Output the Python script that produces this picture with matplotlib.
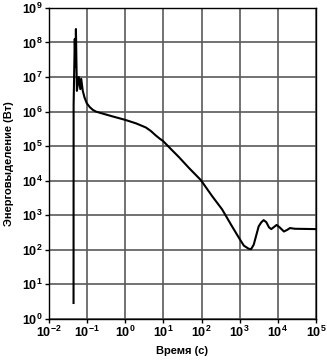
"""Energy release over time, log-log."""

import math

import matplotlib

matplotlib.use("Agg")
from matplotlib import pyplot as plt
from matplotlib.ticker import FixedLocator, FuncFormatter, NullLocator

plt.rcParams["font.family"] = ["Liberation Sans", "DejaVu Sans"]
plt.rcParams["mathtext.fontset"] = "custom"
plt.rcParams["mathtext.rm"] = "Liberation Sans:bold"
plt.rcParams["mathtext.bf"] = "Liberation Sans:bold"
plt.rcParams["mathtext.it"] = "Liberation Sans:bold"

# time, s
time_s = [
    0.0439, 0.0441, 0.0473, 0.0490, 0.0507, 0.0537, 0.0603, 0.0661, 0.0697,
    0.0767, 0.0851, 0.0977, 0.117, 0.141, 0.170, 0.209, 0.468, 1.0, 1.91,
    3.47, 4.68, 6.31, 7.94, 9.77, 14.1, 25.7, 46.8, 95.5, 191, 347, 631,
    955, 1290, 1740, 2000, 2340, 3160, 3720, 4270, 5010, 5890, 6760, 7940,
    9330, 11200, 14500, 17800, 20900, 28200, 100000,
]
# power, W
power_w = [
    2.9, 1.58e6, 1.26e8, 2.0e7, 2.45e8, 3.98e6, 1.0e7, 4.47e6, 8.9e6,
    3.98e6, 2.57e6, 1.74e6, 1.35e6, 1.12e6, 1.0e6, 9.33e5, 7.24e5, 5.75e5, 4.57e5,
    3.47e5, 2.75e5, 2.04e5, 1.66e5, 1.41e5, 9.33e4, 4.79e4, 2.34e4, 1.05e4, 3550, 1480, 479,
    224, 132, 107, 105, 141, 479, 631, 724, 631, 447, 398, 457,
    525, 447, 339, 380, 427, 407, 398,
]

x_decades = list(range(-2, 6))
y_decades = list(range(0, 10))
x_label = "Время (с)"
y_label = "Энерговыделение (Вт)"

fig = plt.figure(figsize=(3.27, 3.60), dpi=100)
ax = fig.add_axes([0.150, 0.114, 0.816, 0.864])

ax.plot(time_s, power_w, color="#000000", linewidth=1.5)
ax.set_xscale("log")
ax.set_yscale("log")
ax.set_xlim(10.0 ** x_decades[0], 10.0 ** x_decades[-1])
ax.set_ylim(10.0 ** y_decades[0], 10.0 ** y_decades[-1])

ax.xaxis.set_major_locator(FixedLocator([10.0 ** d for d in x_decades]))
ax.yaxis.set_major_locator(FixedLocator([10.0 ** d for d in y_decades]))
ax.xaxis.set_minor_locator(NullLocator())
ax.yaxis.set_minor_locator(NullLocator())
fmt = FuncFormatter(lambda v, _: r"$\mathbf{10^{%d}}$" % round(math.log10(v)))
ax.xaxis.set_major_formatter(fmt)
ax.yaxis.set_major_formatter(fmt)

ax.grid(True, color="#5a5a5a", linewidth=1.2)
ax.set_axisbelow(True)
for spine in ax.spines.values():
    spine.set_linewidth(1.0)
ax.tick_params(length=3, width=1.0, labelsize=9, pad=1.5)

ax.set_xlabel(x_label, fontsize=8, fontweight="bold", labelpad=4)
ax.set_ylabel(y_label, fontsize=8, fontweight="bold", labelpad=6)

fig.savefig("out.png", dpi=100)
